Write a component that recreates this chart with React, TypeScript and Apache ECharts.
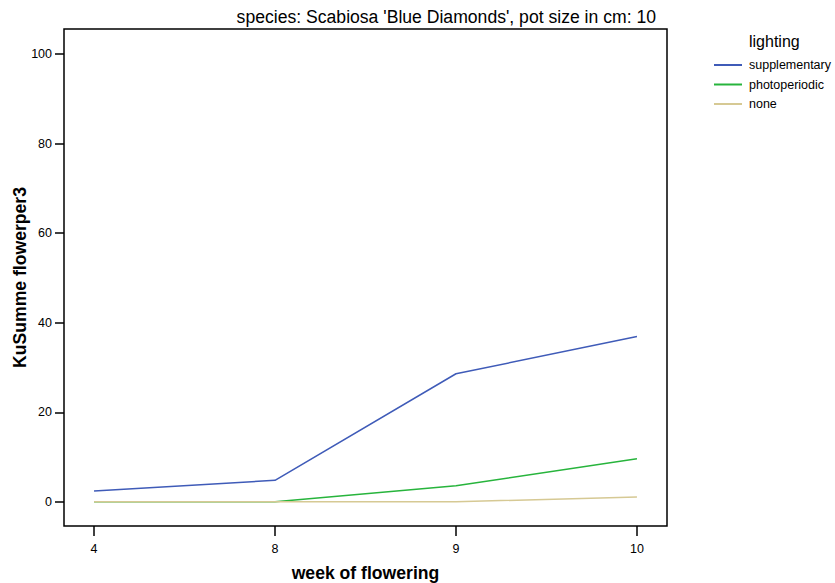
import React, { useEffect, useRef } from "react";
import * as echarts from "echarts";

const weeks = ["4", "8", "9", "10"];
const supplementary = [2.4, 4.8, 28.6, 36.9];
const photoperiodic = [0, 0, 3.6, 9.6];
const none = [0, 0, 0, 1.1];
const yTicks = [0, 20, 40, 60, 80, 100];

const FONT = "'Liberation Sans', Arial, sans-serif";

export default function App() {
  const ref = useRef<HTMLDivElement>(null);
  useEffect(() => {
    if (!ref.current) return;
    const chart = echarts.init(ref.current, undefined, { renderer: "svg" });
    const toPairs = (arr: number[]) => arr.map((v, i) => [i, v]);
    const mk = (name: string, data: number[], color: string) => ({
      name,
      type: "line",
      data: toPairs(data),
      symbol: "none",
      lineStyle: { color, width: 1.5 },
      itemStyle: { color },
    });
    chart.setOption({
      animation: false,
      textStyle: { fontFamily: FONT },
      title: {
        text: "species: Scabiosa 'Blue Diamonds', pot size in cm: 10",
        right: 179,
        top: 8,
        padding: 0,
        textStyle: { fontSize: 17.6, fontWeight: "normal", color: "#000", fontFamily: FONT },
      },
      grid: {
        left: 64,
        top: 29,
        right: 835 - 667,
        bottom: 583 - 526,
        outerBoundsMode: "none",
        containLabel: false,
        show: true,
        borderColor: "#000",
        borderWidth: 1.5,
        backgroundColor: "transparent",
      },
      graphic: [
        {
          type: "text",
          left: 749,
          top: 33,
          style: { text: "lighting", fontSize: 16, fill: "#000", fontFamily: FONT },
        },
      ],
      legend: {
        orient: "vertical",
        left: 714,
        top: 58.5,
        padding: 0,
        itemWidth: 28,
        itemHeight: 2,
        itemGap: 6.5,
        icon: "rect",
        textStyle: { fontSize: 12.5, color: "#000", fontFamily: FONT, padding: [0, 0, 0, 2] },
        data: ["supplementary", "photoperiodic", "none"],
      },
      xAxis: {
        type: "value",
        min: -0.166,
        max: 3.166,
        name: "week of flowering",
        nameLocation: "middle",
        nameGap: 38,
        nameMoveOverlap: false,
        nameTextStyle: { fontSize: 17.6, fontWeight: "bold", color: "#000", fontFamily: FONT },
        axisLine: { show: false, onZero: false },
        splitLine: { show: false },
        axisTick: {
          show: true,
          length: 10,
          lineStyle: { color: "#000", width: 1.5 },
          customValues: [0, 1, 2, 3],
        },
        axisLabel: {
          fontSize: 12.5,
          color: "#000",
          margin: 16,
          customValues: [0, 1, 2, 3],
          formatter: (v: number) => weeks[Math.round(v)] ?? "",
        },
      },
      yAxis: {
        type: "value",
        min: -5.4,
        max: 105.6,
        name: "KuSumme flowerper3",
        nameLocation: "middle",
        nameGap: 35,
        nameMoveOverlap: false,
        nameTextStyle: { fontSize: 17.6, fontWeight: "bold", color: "#000", fontFamily: FONT },
        axisLine: { show: false, onZero: false },
        splitLine: { show: false },
        axisTick: {
          show: true,
          length: 9,
          lineStyle: { color: "#000", width: 1.5 },
          customValues: yTicks,
        },
        axisLabel: {
          fontSize: 12.5,
          color: "#000",
          margin: 12,
          customValues: yTicks,
        },
      },
      series: [
        mk("supplementary", supplementary, "#3f5bb8"),
        mk("photoperiodic", photoperiodic, "#27b43c"),
        mk("none", none, "#d6c994"),
      ],
    });
    return () => chart.dispose();
  }, []);
  return (
    <div
      ref={ref}
      style={{ position: "absolute", left: 0, top: 0, width: 835, height: 583 }}
    />
  );
}
